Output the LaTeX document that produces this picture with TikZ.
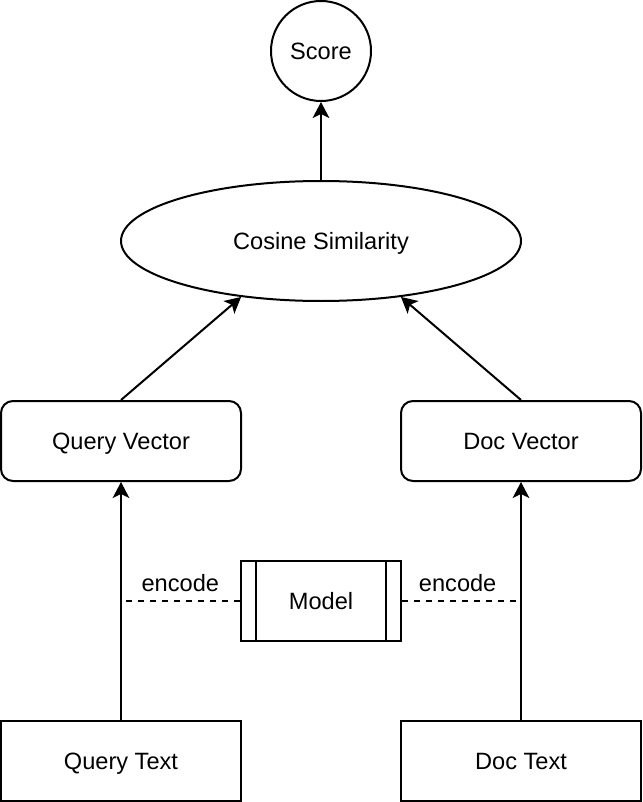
\documentclass[tikz,border=0pt]{standalone}
\usepackage{fontspec}
\setmainfont{Liberation Sans}
\usepackage{tikz}
\usetikzlibrary{shapes,shapes.geometric,arrows.meta,positioning,calc}

\begin{document}
\begin{tikzpicture}[x=0.75pt, y=-0.75pt, line width=1.5pt,
    every node/.style={font=\fontsize{17.7}{21}\selectfont, text height=12.7pt, text depth=0pt},
    box/.style={draw, rectangle, minimum width=180pt, minimum height=60pt, inner sep=0pt},
    vecbox/.style={box, rounded corners=9pt},
    arr/.style={-{Stealth[length=12pt, width=12.5pt, inset=3pt]}},
    link/.style={dash pattern=on 4.5pt off 4.5pt, line width=1.2pt}]
\useasboundingbox (0,0) rectangle (642,802);
% Output score
\node[draw, circle, minimum size=75pt, inner sep=0pt] (score) at (321,51) {Score};
% Similarity
\node[draw, ellipse, minimum width=300pt, minimum height=90pt, inner sep=0pt] (cos) at (321,241) {Cosine Similarity};
% Vectors
\node[vecbox] (qvec) at (121,441) {Query Vector};
\node[vecbox] (dvec) at (521,441) {Doc Vector};
% Shared encoder
\node[box, minimum width=120pt] (model) at (321,601) {Model};
\draw ([xshift=12pt]model.north west) -- ([xshift=12pt]model.south west);
\draw ([xshift=-12pt]model.north east) -- ([xshift=-12pt]model.south east);
% Inputs
\node[box] (qtext) at (121,761) {Query Text};
\node[box] (dtext) at (521,761) {Doc Text};
% Flow
\draw[arr] (qtext) -- (qvec);
\draw[arr] (dtext) -- (dvec);
\draw[arr] (qvec.north) -- (cos.215);
\draw[arr] (dvec.north) -- (cos.325);
\draw[arr] (cos) -- (score);
% Encoder links
\coordinate (qenc) at (126,601);
\coordinate (denc) at (516,601);
\draw[link] (model.west) -- (qenc) node[midway, above=3.5pt, xshift=-2pt] {encode};
\draw[link] (model.east) -- (denc) node[midway, above=3.5pt, xshift=-1pt] {encode};
\end{tikzpicture}
\end{document}
